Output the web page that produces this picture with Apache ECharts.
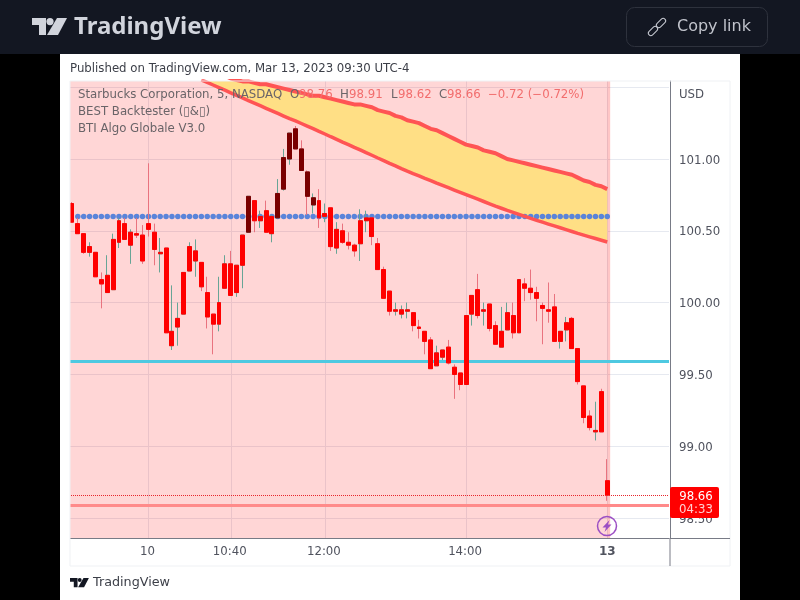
<!DOCTYPE html>
<html>
<head>
<meta charset="utf-8">
<title>SBUX</title>
<style>
html, body { margin: 0; padding: 0; background: #000; }
#main { width: 800px; height: 600px; }
</style>
<script src="https://cdn.jsdelivr.net/npm/echarts@6/dist/echarts.min.js"></script>
</head>
<body>
<div id="main"></div>
<script>
// OHLC, one entry per 5 minute bar
var opens = [
  100.69,100.55,100.48,100.35,100.35,100.16,100.07,100.09,100.42,100.55,
  100.40,100.48,100.47,100.55,100.49,100.34,100.38,99.70,99.83,99.92,
  100.22,100.29,100.28,100.07,99.92,99.85,100.10,100.27,100.07,100.26,
  100.49,100.71,100.57,100.64,100.48,100.59,100.79,101.00,101.21,101.07,
  100.91,100.68,100.71,100.60,100.66,100.38,100.50,100.42,100.40,100.41,
  100.57,100.59,100.41,100.23,100.08,99.94,99.92,99.94,99.93,99.83,
  99.80,99.74,99.56,99.62,99.69,99.55,99.51,99.43,99.92,100.09,
  99.94,99.99,99.84,99.69,99.81,99.91,99.79,100.13,100.10,100.07,
  99.98,99.95,99.97,99.73,99.81,99.89,99.68,99.42,99.21,99.10,
  99.38,98.76
];
var closes = [
  100.56,100.48,100.35,100.39,100.18,100.13,100.19,100.44,100.57,100.44,
  100.49,100.47,100.29,100.51,100.37,100.35,99.79,99.80,99.89,100.21,
  100.39,100.36,100.11,99.90,99.85,100.00,100.27,100.05,100.26,100.47,
  100.74,100.57,100.60,100.49,100.60,100.76,101.01,101.18,101.07,100.92,
  100.74,100.73,100.59,100.62,100.39,100.51,100.42,100.40,100.36,100.57,
  100.59,100.46,100.23,100.03,99.94,99.95,99.95,99.95,99.84,99.82,
  99.73,99.54,99.65,99.67,99.58,99.50,99.43,99.91,100.05,99.91,
  99.95,99.82,99.71,99.80,99.93,99.79,100.16,100.10,100.07,100.03,
  99.96,99.94,99.73,99.80,99.86,99.68,99.45,99.20,99.13,99.11,
  99.10,98.66
];
var highs = [
  100.70,100.59,100.48,100.42,100.35,100.21,100.33,100.48,100.59,100.59,
  100.51,100.59,100.54,100.97,100.55,100.45,100.38,100.12,100.00,100.21,
  100.42,100.44,100.28,100.18,99.92,100.18,100.33,100.36,100.26,100.47,
  100.74,100.71,100.64,100.71,100.61,100.86,101.07,101.18,101.23,101.13,
  100.92,100.76,100.79,100.69,100.66,100.56,100.55,100.49,100.41,100.65,
  100.64,100.59,100.45,100.25,100.08,100.00,99.98,100.00,99.93,99.88,
  99.80,99.76,99.70,99.67,99.74,99.57,99.51,99.91,100.05,100.20,
  100.00,99.99,99.87,99.97,100.00,100.00,100.16,100.17,100.23,100.11,
  100.00,100.14,100.06,99.80,99.90,99.90,99.68,99.42,99.25,99.31,
  99.40,98.91
];
var lows = [
  100.56,100.48,100.34,100.32,100.18,99.96,100.07,100.09,100.38,100.44,
  100.27,100.45,100.27,100.46,100.26,100.21,99.79,99.67,99.70,99.92,
  100.22,100.18,100.08,99.82,99.64,99.80,100.10,100.05,100.04,100.10,
  100.49,100.49,100.52,100.49,100.42,100.59,100.78,100.96,101.07,100.92,
  100.61,100.62,100.52,100.56,100.36,100.34,100.41,100.37,100.32,100.29,
  100.49,100.40,100.23,100.03,99.91,99.91,99.89,99.89,99.80,99.75,
  99.64,99.54,99.56,99.60,99.57,99.33,99.39,99.43,99.84,99.89,
  99.84,99.80,99.71,99.69,99.81,99.75,99.79,100.01,100.02,99.87,
  99.71,99.86,99.73,99.68,99.73,99.68,99.43,99.16,99.11,99.04,
  99.10,98.62
];
var darkBars = [30,35,36,37,38,39,40,41];

// upper and lower band lines, visible from bar 22 onwards
var bandStart = 22;
var upperBand = [
  101.62,101.61,101.60,101.59,101.58,101.56,101.55,101.54,101.54,101.53,
  101.52,101.52,101.51,101.50,101.49,101.48,101.47,101.46,101.45,101.44,
  101.44,101.43,101.42,101.41,101.40,101.39,101.38,101.38,101.37,101.36,
  101.34,101.33,101.32,101.30,101.29,101.27,101.26,101.25,101.23,101.21,
  101.20,101.18,101.16,101.14,101.12,101.10,101.09,101.08,101.06,101.05,
  101.04,101.02,101.00,100.99,100.98,100.97,100.96,100.95,100.94,100.93,
  100.92,100.91,100.90,100.89,100.87,100.85,100.84,100.82,100.81,100.79
];
var lowerBand = [
  101.551,101.533,101.515,101.497,101.479,101.461,101.443,101.425,101.407,101.389,
  101.371,101.353,101.335,101.317,101.299,101.281,101.265,101.247,101.229,101.211,
  101.192,101.174,101.155,101.137,101.118,101.100,101.081,101.063,101.044,101.026,
  101.007,100.989,100.970,100.952,100.933,100.915,100.898,100.882,100.865,100.849,
  100.832,100.816,100.800,100.784,100.768,100.752,100.736,100.720,100.704,100.688,
  100.672,100.657,100.642,100.628,100.614,100.600,100.586,100.573,100.560,100.547,
  100.534,100.521,100.508,100.495,100.482,100.470,100.458,100.446,100.434,100.422
];

var dotLevel = 100.6;
var cyanLevel = 99.59;
var redLevel = 98.59;
var lastPrice = 98.66;

var barCount = 102;
var tickLabels = { 13: '10', 27: '10:40', 43: '12:00', 67: '14:00', 91: '13' };
var boldTick = 91;
var priceTicks = [98.5, 99, 99.5, 100, 100.5, 101];
var gridTicks = [98.5, 99, 99.5, 100, 100.5, 101, 101.5];
var yMin = 98.361, yMax = 101.543;

var categories = [];
for (var i = 0; i < barCount; i++) categories.push(String(i));

function padBand(arr) {
  var out = [];
  for (var k = 0; k < bandStart; k++) out.push(null);
  return out.concat(arr);
}

var upColor = '#67a596', downColor = '#e9737f';
var wickData = opens.map(function (o, n) {
  var c = closes[n] >= o ? upColor : downColor;
  return {
    value: [o, closes[n], lows[n], highs[n]],
    itemStyle: { color: 'transparent', color0: 'transparent', borderColor: c, borderColor0: c, borderColorDoji: c }
  };
});
var bodyData = opens.map(function (o, n) {
  var c = darkBars.indexOf(n) >= 0 ? '#7a0000' : '#ff0000';
  return {
    value: [o, closes[n], Math.min(o, closes[n]), Math.max(o, closes[n])],
    itemStyle: { color: c, color0: c, borderColor: c, borderColor0: c, borderColorDoji: c }
  };
});
var dots = opens.map(function (o, n) { return n === 0 ? null : dotLevel; });
var bandHeight = upperBand.map(function (u, n) { return u - lowerBand[n]; });

function txt(text, x, y, font, fill, align) {
  return {
    type: 'text', z: 100, silent: true,
    style: { text: text, x: x, y: y + 1, font: font, fill: fill, align: align || 'left', verticalAlign: 'middle' }
  };
}
function logo(x, y, s, fill) {
  return {
    type: 'group', x: x, y: y, scaleX: s, scaleY: s, z: 100, silent: true,
    children: [
      { type: 'polygon', z: 100, shape: { points: [[0,0],[14,0],[14,17],[7,17],[7,7],[0,7]] }, style: { fill: fill } },
      { type: 'circle', z: 100, shape: { cx: 18, cy: 3.6, r: 3.6 }, style: { fill: fill } },
      { type: 'polygon', z: 100, shape: { points: [[25,0],[35,0],[26,17],[15,17]] }, style: { fill: fill } }
    ]
  };
}

var SANS = '"DejaVu Sans"';
var F12 = '11.75px ' + SANS;
var graphicItems = [
  { type: 'rect', z: -10, silent: true, shape: { x: 0, y: 0, width: 800, height: 54 }, style: { fill: '#131722' } },
  { type: 'rect', z: -10, silent: true, shape: { x: 60, y: 54, width: 680, height: 546 }, style: { fill: '#ffffff' } },
  // covers the sliver of the pane left of the frame
  { type: 'rect', z: 90, silent: true, shape: { x: 60, y: 81, width: 10, height: 485 }, style: { fill: '#ffffff' } },
  { type: 'rect', z: 91, silent: true, shape: { x: 70, y: 81, width: 660, height: 485 }, style: { fill: 'none', stroke: '#eff1f4', lineWidth: 1 } },
  { type: 'line', z: 92, silent: true, shape: { x1: 670, y1: 538, x2: 670, y2: 566 }, style: { stroke: '#787b86', lineWidth: 1 } },
  { type: 'line', z: 92, silent: true, shape: { x1: 670, y1: 538.5, x2: 730, y2: 538.5 }, style: { stroke: '#787b86', lineWidth: 1 } },

  logo(32, 18, 1, '#d1d4dc'),
  txt('TradingView', 74, 26, 'bold 24px "Noto Sans"', '#d1d4dc'),
  { type: 'rect', z: 100, silent: true, shape: { x: 626.5, y: 7.5, width: 141, height: 39, r: 8 }, style: { fill: 'none', stroke: '#2e323d', lineWidth: 1 } },
  { type: 'rect', z: 100, silent: true, x: 653, y: 31, rotation: -Math.PI / 4, originX: 0, originY: 0, shape: { x: -2.5, y: -5.5, width: 5, height: 11, r: 2.5 }, style: { fill: 'none', stroke: '#c8cbd3', lineWidth: 1 } },
  { type: 'rect', z: 100, silent: true, x: 661, y: 23, rotation: -Math.PI / 4, originX: 0, originY: 0, shape: { x: -2.5, y: -5.5, width: 5, height: 11, r: 2.5 }, style: { fill: 'none', stroke: '#c8cbd3', lineWidth: 1 } },
  txt('Copy link', 677, 26, '16px ' + SANS, '#c0c3cb'),

  txt('Published on TradingView.com, Mar 13, 2023 09:30 UTC-4', 70, 68, F12, '#3c3f48'),

  txt('Starbucks Corporation, 5, NASDAQ', 78, 94, F12, '#6a6468'),
  txt('O', 290, 94, F12, '#6a6468'),
  txt('98.76', 299, 94, F12, '#f26d6d'),
  txt('H', 340, 94, F12, '#6a6468'),
  txt('98.91', 349, 94, F12, '#f26d6d'),
  txt('L', 391, 94, F12, '#6a6468'),
  txt('98.62', 398, 94, F12, '#f26d6d'),
  txt('C', 439, 94, F12, '#6a6468'),
  txt('98.66', 447, 94, F12, '#f26d6d'),
  txt('\u22120.72 (\u22120.72%)', 488, 94, F12, '#f26d6d'),
  txt('BEST Backtester (\u25AF&\u25AF)', 78, 111, F12, '#6a6468'),
  txt('BTI Algo Globale V3.0', 78, 128, F12, '#6a6468'),

  txt('USD', 679, 94, F12, '#50535e'),

  { type: 'rect', z: 95, silent: true, shape: { x: 670, y: 487, width: 49, height: 31, r: 2 }, style: { fill: '#ff0000' } },
  txt('98.66', 696, 495.5, F12, '#ffffff', 'center'),
  txt('04:33', 696, 508.5, F12, '#ffd0d0', 'center'),

  { type: 'circle', z: 95, silent: true, shape: { cx: 607, cy: 526, r: 9.5 }, style: { fill: 'none', stroke: '#9c4fc4', lineWidth: 1.5 } },
  { type: 'polygon', z: 95, silent: true, shape: { points: [[609.5,520],[602.5,527.5],[606,527.5],[604.5,532],[611.5,524.5],[608,524.5]] }, style: { fill: '#9c4fc4' } },

  logo(70, 578, 0.54, '#131722'),
  txt('TradingView', 93, 582, '12.75px ' + SANS, '#3c3f48')
];

var chart = echarts.init(document.getElementById('main'));

var option = {
  animation: false,
  backgroundColor: '#000000',
  graphic: graphicItems,
  grid: { left: 69, width: 600, top: 81, height: 457, containLabel: false },
  xAxis: {
    type: 'category',
    data: categories,
    boundaryGap: true,
    axisLine: { show: true, lineStyle: { color: '#787b86', width: 1 } },
    axisTick: { show: false },
    axisLabel: {
      color: '#50535e', fontFamily: 'DejaVu Sans', fontSize: 11.75, margin: 8, hideOverlap: false,
      interval: function (idx) { return tickLabels[idx] !== undefined; },
      formatter: function (val) {
        if (!tickLabels[val]) return '';
        return (Number(val) === boldTick ? '{b|' : '{t|') + tickLabels[val] + '}';
      },
      rich: {
        t: { color: '#50535e', fontFamily: 'DejaVu Sans', fontSize: 11.75, padding: [0, 2, 0, 0] },
        b: { fontWeight: 'bold', color: '#50535e', fontFamily: 'DejaVu Sans', fontSize: 12 }
      }
    },
    splitLine: {
      show: true, alignWithLabel: true,
      interval: function (idx) { return tickLabels[idx] !== undefined; },
      lineStyle: { color: '#e6e9f0', width: 1 }
    }
  },
  yAxis: {
    type: 'value',
    position: 'right',
    offset: 1,
    min: yMin,
    max: yMax,
    axisLine: { show: true, lineStyle: { color: '#787b86', width: 1 } },
    axisTick: { show: false, customValues: gridTicks },
    axisLabel: {
      color: '#50535e', fontFamily: 'DejaVu Sans', fontSize: 11.75, margin: 9,
      customValues: priceTicks,
      formatter: function (v) { return '{v|' + v.toFixed(2) + '}'; },
      rich: { v: { color: '#50535e', fontFamily: 'DejaVu Sans', fontSize: 11.75, padding: [3, 0, 0, 0] } }
    },
    splitLine: { show: true, lineStyle: { color: '#e6e9f0', width: 1 } }
  },
  series: [
    {
      // red session background, one rect per span of bars
      type: 'custom',
      name: 'session',
      silent: true,
      z: 1,
      clip: true,
      encode: { x: 0 },
      data: [[0, 91], [91, 91]],
      renderItem: function (params, api) {
        var band = api.size([1, 0])[0];
        var a = api.coord([api.value(0), yMax]);
        var b = api.coord([api.value(1), yMin]);
        var first = params.dataIndex === 0;
        var left = first ? a[0] - band / 2 : a[0];
        return {
          type: 'rect',
          shape: { x: left, y: a[1], width: b[0] + band / 2 - left, height: b[1] - a[1] },
          style: { fill: first ? 'rgba(255,0,0,0.16)' : 'rgba(255,0,0,0.07)' }
        };
      }
    },
    {
      type: 'line', name: 'base', stack: 'band', silent: true, z: 2,
      data: padBand(lowerBand), showSymbol: false, lineStyle: { width: 0 }
    },
    {
      type: 'line', name: 'fill', stack: 'band', silent: true, z: 2,
      data: padBand(bandHeight), showSymbol: false, lineStyle: { width: 0 },
      areaStyle: { color: '#ffdf85', opacity: 1 }
    },
    {
      type: 'line', name: 'dots', silent: true, z: 3,
      data: dots, showSymbol: true, symbol: 'circle', symbolSize: 5.5,
      showAllSymbol: true,
      lineStyle: { width: 0 }, itemStyle: { color: '#5a84da' }
    },
    {
      type: 'candlestick', name: 'wicks', silent: true, z: 4, barWidth: 4.4,
      data: wickData,
      markLine: {
        silent: true, symbol: 'none', z: 2, animation: false, label: { show: false },
        data: [
          { yAxis: cyanLevel, lineStyle: { color: '#4ec9e1', width: 3, type: 'solid' } },
          { yAxis: redLevel, lineStyle: { color: '#ff8a8a', width: 3, type: 'solid' } },
          { yAxis: lastPrice, lineStyle: { color: '#e8262c', width: 1, type: 'dotted' } }
        ]
      }
    },
    {
      type: 'candlestick', name: 'SBUX', silent: true, z: 5, barWidth: 4.4,
      data: bodyData
    },
    {
      type: 'line', name: 'upper', silent: true, z: 6,
      data: padBand(upperBand), showSymbol: false,
      lineStyle: { color: '#ff5454', width: 4 }
    },
    {
      type: 'line', name: 'lower', silent: true, z: 6,
      data: padBand(lowerBand), showSymbol: false,
      lineStyle: { color: '#ff5454', width: 3.5 }
    }
  ]
};

chart.setOption(option);
</script>
</body>
</html>
